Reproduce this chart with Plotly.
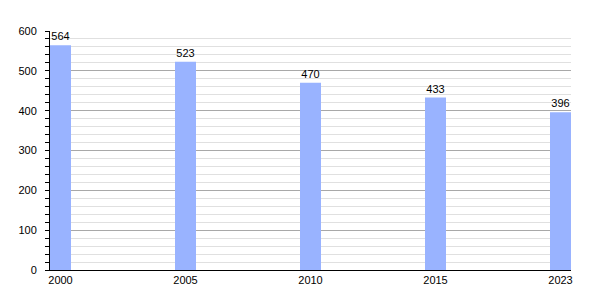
import plotly.graph_objects as go

years = ["2000", "2005", "2010", "2015", "2023"]
values = [564, 523, 470, 433, 396]
positions = list(range(len(years)))

fig = go.Figure()
fig.add_trace(go.Bar(
    x=positions, y=values, width=0.168,
    marker=dict(color="#99b3ff", line=dict(width=0)),
    text=[str(v) for v in values], textposition="outside",
    textfont=dict(family="Liberation Sans, Arial", size=11, color="black"),
    cliponaxis=False,
))
fig.update_layout(
    width=600, height=300,
    margin=dict(l=50, r=29, t=31, b=30),
    plot_bgcolor="white", paper_bgcolor="white",
    showlegend=False,
    font=dict(family="Liberation Sans, Arial", size=11, color="black"),
    xaxis=dict(
        range=[-0.084, 4.084], tickmode="array", tickvals=positions, ticktext=years,
        showgrid=False, showline=True, linecolor="black", linewidth=1,
        ticks="", zeroline=False, fixedrange=True,
    ),
    yaxis=dict(
        range=[0, 600], dtick=100, showgrid=True, gridcolor="#a8a8a8", gridwidth=1,
        showline=True, linecolor="black", linewidth=1,
        ticks="outside", ticklen=4, tickcolor="black",
        minor=dict(dtick=20, showgrid=True, gridcolor="#e0e0e0", ticks="outside", ticklen=4, tickcolor="black"),
        zeroline=False, ticklabelstandoff=6,
    ),
)
fig.write_html("out.html")
